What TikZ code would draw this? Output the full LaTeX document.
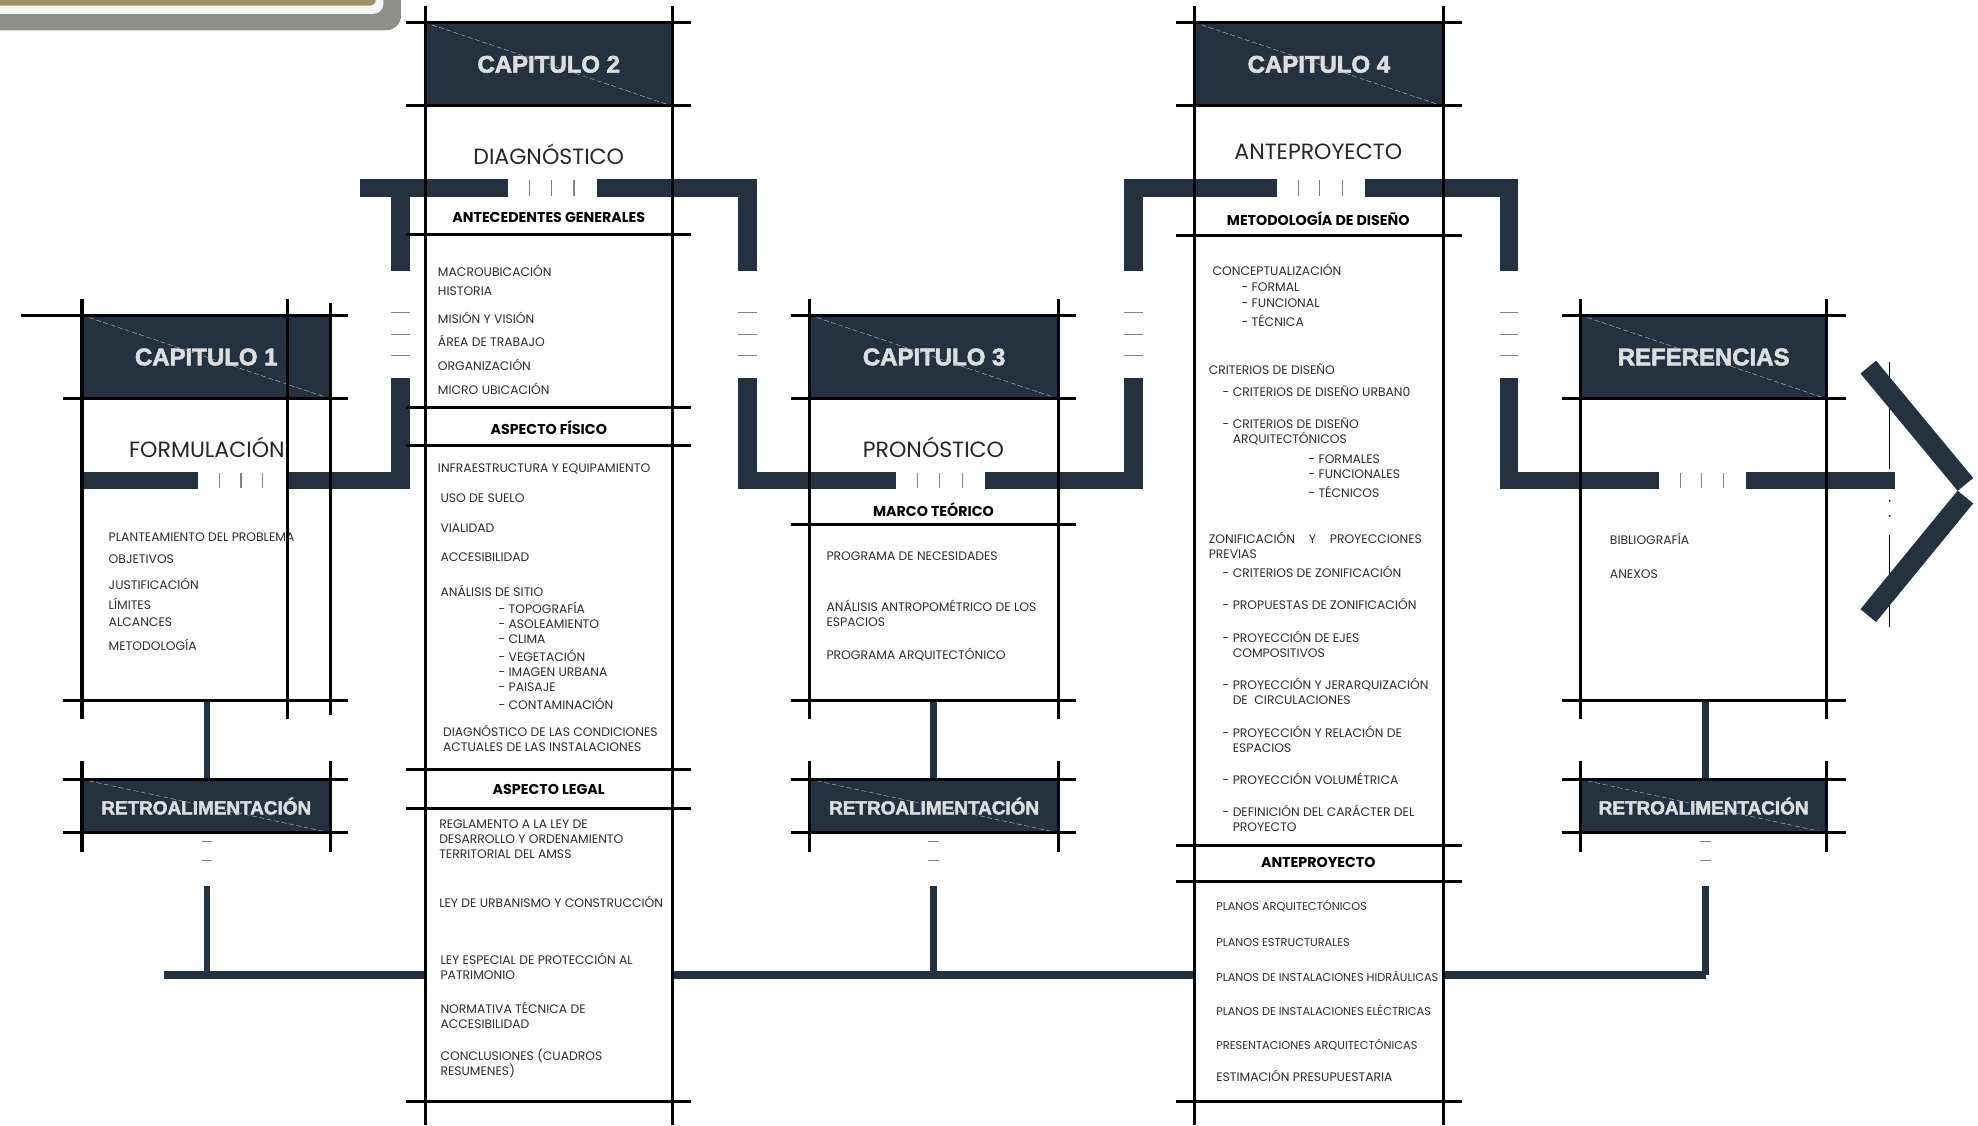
\documentclass[tikz,border=0pt]{standalone}
\usepackage{fontspec}
\setmainfont{Poppins}
\newfontfamily\hdrfont{Liberation Sans}[BoldFeatures={FakeBold=2.4}]
\definecolor{navy}{RGB}{35,49,64}
\definecolor{hdrtxt}{RGB}{222,222,222}
\definecolor{bodytxt}{RGB}{45,45,45}
\definecolor{tickc}{RGB}{120,135,150}
\definecolor{bgray}{RGB}{143,143,135}
\definecolor{bolive}{RGB}{155,145,99}
\begin{document}
\begin{tikzpicture}[x=1pt,y=-1pt,
  cline/.style={line width=2.4pt, black},
  hdrbox/.style={fill=navy, inner sep=0, text=hdrtxt, font=\hdrfont\bfseries\fontsize{19}{19}\selectfont},
  retbox/.style={fill=navy, inner sep=0, text=hdrtxt, font=\hdrfont\bfseries\fontsize{15}{15}\selectfont},
  ttl/.style={font=\fontsize{17.5}{17.5}\selectfont, text=black!85, inner sep=0},
  subhdr/.style={font=\bfseries\fontsize{11.3}{12}\selectfont, inner sep=0},
  item/.style={font=\fontsize{9.8}{12}\selectfont, text=bodytxt, inner sep=0, anchor=west, align=left},
  itemb/.style={item, font=\fontsize{9}{12}\selectfont},
  bar/.style={fill=navy},
  tick/.style={draw=tickc, line width=0.9pt},
  diag/.style={draw=white!65!navy, line width=0.35pt, dash pattern=on 4pt off 2pt},
  conn/.style={draw=navy, line width=5pt},
]
\useasboundingbox (0,0) rectangle (1568,892);
\fill[white] (0,0) rectangle (1568,892);
% banner
\fill[bgray, rounded corners=12pt] (-30,-30) rectangle (318,24);
\fill[white!96!black, rounded corners=8pt] (-30,-30) rectangle (304,11);
\fill[bolive, rounded corners=5pt] (-30,-30) rectangle (298,4.5);

% bottom feedback bar
\coordinate (jl) at (130,773);
\coordinate (jr) at (1352,773);
\draw[navy, line width=6pt] (jl) -- (jr);

% ---------- column white fills ----------
\fill[white] (337,0) rectangle (533,892);
\fill[white] (947,0) rectangle (1144,892);

% ---------- header boxes ----------
\node[hdrbox, minimum width=197pt, minimum height=66pt] (h1) at (163.5,283) {CAPITULO 1};
\node[hdrbox, minimum width=196pt, minimum height=66pt] (h2) at (435,51) {CAPITULO 2};
\node[hdrbox, minimum width=197pt, minimum height=66pt] (h3) at (740.5,283) {CAPITULO 3};
\node[hdrbox, minimum width=197pt, minimum height=66pt] (h4) at (1045.5,51) {CAPITULO 4};
\node[hdrbox, minimum width=195pt, minimum height=66pt] (h5) at (1350.5,283) {REFERENCIAS};
\node[retbox, minimum width=197pt, minimum height=42pt] (r1) at (163.5,639) {RETROALIMENTACIÓN};
\node[retbox, minimum width=197pt, minimum height=42pt] (r3) at (740.5,639) {RETROALIMENTACIÓN};
\node[retbox, minimum width=195pt, minimum height=42pt] (r5) at (1350.5,639) {RETROALIMENTACIÓN};
\foreach \n in {h1,h2,h3,h4,h5,r1,r3,r5} \draw[diag] (\n.north west) -- (\n.south east);

% ---------- connectors chapter -> feedback ----------
\coordinate (b1) at (164,555);
\coordinate (b3) at (740,555);
\coordinate (b5) at (1352,555);
\draw[conn] (b1) -- (r1.north -| b1);
\draw[conn] (b3) -- (r3.north -| b3);
\draw[conn] (b5) -- (r5.north -| b5);
\foreach \x in {164,740,1352} {
  \draw[tick, line width=1.2pt] (\x-4,667) -- (\x+4,667);
  \draw[tick, line width=1.2pt] (\x-4,682) -- (\x+4,682);
}
\coordinate (d1) at (164,702);
\coordinate (d3) at (740,702);
\coordinate (d5) at (1352,702);
\draw[conn] (d1) -- (jl -| d1);
\draw[conn] (d3) -- (jl -| d3);
\draw[navy, line width=6pt] (d5) -- (jr);

% ---------- brackets (thick bars) ----------
% chapter 1 band
\fill[bar] (65,374) rectangle (157,388);
\fill[bar] (228,374) rectangle (325,388);
\foreach \x in {174,191,208} \draw[tick] (\x,375) -- (\x,387);
% chapter 2 bracket
\fill[bar] (285,142) rectangle (403,156);
\fill[bar] (473,142) rectangle (600,156);
\foreach \x in {420,437,455} \draw[tick] (\x,143) -- (\x,155);
\fill[bar] (310,156) rectangle (325,215);
\fill[bar] (310,300) rectangle (325,388);
\fill[bar] (585,156) rectangle (600,215);
\fill[bar] (585,300) rectangle (600,388);
\foreach \y in {248,265,282} {
  \draw[tick] (310,\y) -- (325,\y);
  \draw[tick] (585,\y) -- (600,\y);
}
% chapter 3 band
\fill[bar] (585,374) rectangle (710,388);
\fill[bar] (781,374) rectangle (906,388);
\foreach \x in {727,745,763} \draw[tick] (\x,375) -- (\x,387);
% chapter 4 bracket
\fill[bar] (891,142) rectangle (1012,156);
\fill[bar] (1082,142) rectangle (1203,156);
\foreach \x in {1029,1046,1064} \draw[tick] (\x,143) -- (\x,155);
\fill[bar] (891,156) rectangle (906,215);
\fill[bar] (891,300) rectangle (906,388);
\fill[bar] (1189,156) rectangle (1203,215);
\fill[bar] (1189,300) rectangle (1203,388);
\foreach \y in {248,265,282} {
  \draw[tick] (891,\y) -- (906,\y);
  \draw[tick] (1189,\y) -- (1203,\y);
}
% references band
\fill[bar] (1189,374) rectangle (1315,388);
\fill[bar] (1384,374) rectangle (1502,388);
\foreach \x in {1332,1349,1366} \draw[tick] (\x,375) -- (\x,387);

% ---------- chevron ----------
\draw[black, line width=1pt] (1498,287) -- (1498,372);
\fill[black] (1498,397) circle (0.8pt);
\fill[black] (1498,409) circle (0.8pt);
\draw[black, line width=1pt] (1498,424) -- (1498,497);
\draw[navy, line width=16pt] (1481,291) -- (1558,384);
\draw[navy, line width=16pt] (1558,394) -- (1481,488);

% ---------- column lines ----------
% chapter 1
\draw[cline] (17,250) -- (276,250);
\foreach \y in {316,555,618,660} \draw[cline] (50,\y) -- (276,\y);
\draw[cline] (65,237) -- (65,570);
\draw[cline] (228,237) -- (228,570);
\draw[cline] (262,240) -- (262,567);
\draw[cline] (65,603) -- (65,675);
\draw[cline] (262,603) -- (262,675);
% chapter 2
\foreach \y in {18,84,186,323,353,610,641,873} \draw[cline] (322,\y) -- (548,\y);
\draw[cline] (337,5) -- (337,892);
\draw[cline] (533,5) -- (533,892);
% chapter 3
\foreach \y in {250,316,416,555,618,660} \draw[cline] (627,\y) -- (853,\y);
\draw[cline] (642,237) -- (642,570);
\draw[cline] (839,237) -- (839,570);
\draw[cline] (642,603) -- (642,675);
\draw[cline] (839,603) -- (839,675);
% chapter 4
\foreach \y in {18,84,187,670,699,873} \draw[cline] (932,\y) -- (1159,\y);
\draw[cline] (947,5) -- (947,892);
\draw[cline] (1144,5) -- (1144,892);
% references
\foreach \y in {250,316,555,618,660} \draw[cline] (1238,\y) -- (1463,\y);
\draw[cline] (1253,237) -- (1253,570);
\draw[cline] (1448,237) -- (1448,570);
\draw[cline] (1253,603) -- (1253,675);
\draw[cline] (1448,603) -- (1448,675);

% ---------- titles ----------
\node[ttl] (t1) at (164,355) {FORMULACIÓN};
\node[ttl] (t2) at (435,122) {DIAGNÓSTICO};
\node[ttl] (t3) at (740,355) {PRONÓSTICO};
\node[ttl] (t4) at (1045,120) {ANTEPROYECTO};

% ---------- chapter 1 items ----------
\node[item] (c1a) at (86,426) {PLANTEAMIENTO DEL PROBLEMA};
\node[item] (c1b) at (86,443) {OBJETIVOS};
\node[item] (c1c) at (86,463) {JUSTIFICACIÓN};
\node[item] (c1d) at (86,479) {LÍMITES};
\node[item] (c1e) at (86,493) {ALCANCES};
\node[item] (c1f) at (86,511) {METODOLOGÍA};

% ---------- chapter 2 items ----------
\node[subhdr] (s2a) at (435,172) {ANTECEDENTES GENERALES};
\node[item] (c2a) at (347,215) {MACROUBICACIÓN};
\node[item] (c2b) at (347,231) {HISTORIA};
\node[item] (c2c) at (347,252) {MISIÓN Y VISIÓN};
\node[item] (c2d) at (347,270) {ÁREA DE TRABAJO};
\node[item] (c2e) at (347,289) {ORGANIZACIÓN};
\node[item] (c2f) at (347,308) {MICRO UBICACIÓN};
\node[subhdr] (s2b) at (435,339) {ASPECTO FÍSICO};
\node[item] (c2g) at (347,372) {INFRAESTRUCTURA Y EQUIPAMIENTO};
\node[item] (c2h) at (349,395) {USO DE SUELO};
\node[item] (c2i) at (349,419) {VIALIDAD};
\node[item] (c2j) at (349,442) {ACCESIBILIDAD};
\node[item] (c2k) at (349,468) {ANÁLISIS DE SITIO};
\node[item] (c2l) at (395,482) {- TOPOGRAFÍA};
\node[item] (c2m) at (395,495) {- ASOLEAMIENTO};
\node[item] (c2n) at (395,507) {- CLIMA};
\node[item] (c2o) at (395,520) {- VEGETACIÓN};
\node[item] (c2p) at (395,533) {- IMAGEN URBANA};
\node[item] (c2q) at (395,545) {- PAISAJE};
\node[item] (c2r) at (395,558) {- CONTAMINACIÓN};
\node[item] (c2s) at (351,585) {DIAGNÓSTICO DE LAS CONDICIONES\\ACTUALES DE LAS INSTALACIONES};
\node[subhdr] (s2c) at (435,626) {ASPECTO LEGAL};
\node[item] (c2t) at (348,665) {REGLAMENTO A LA LEY DE\\DESARROLLO Y ORDENAMIENTO\\TERRITORIAL DEL AMSS};
\node[item] (c2u) at (348,715) {LEY DE URBANISMO Y CONSTRUCCIÓN};
\node[item] (c2v) at (349,766) {LEY ESPECIAL DE PROTECCIÓN AL\\PATRIMONIO};
\node[item] (c2w) at (349,805) {NORMATIVA TÉCNICA DE\\ACCESIBILIDAD};
\node[item] (c2x) at (349,843) {CONCLUSIONES (CUADROS\\RESUMENES)};

% ---------- chapter 3 items ----------
\node[subhdr] (s3a) at (740,404) {MARCO TEÓRICO};
\node[item] (c3a) at (655,441) {PROGRAMA DE NECESIDADES};
\node[item] (c3b) at (655,486) {ANÁLISIS ANTROPOMÉTRICO DE LOS\\ESPACIOS};
\node[item] (c3c) at (655,519) {PROGRAMA ARQUITECTÓNICO};

% ---------- chapter 4 items ----------
\node[subhdr] (s4a) at (1045,173) {METODOLOGÍA DE DISEÑO};
\node[item] (c4a) at (961,214) {CONCEPTUALIZACIÓN};
\node[item] (c4b) at (984,228) {- FORMAL};
\node[item] (c4c) at (984,240) {- FUNCIONAL};
\node[item] (c4d) at (984,254) {- TÉCNICA};
\node[item] (c4e) at (958,293) {CRITERIOS DE DISEÑO};
\node[item] (c4f) at (969,310) {- CRITERIOS DE DISEÑO URBAN0};
\node[item] (c4g) at (969,342) {- CRITERIOS DE DISEÑO\\\hphantom{- }ARQUITECTÓNICOS};
\node[item] (c4h) at (1037,364) {- FORMALES};
\node[item] (c4i) at (1037,376) {- FUNCIONALES};
\node[item] (c4j) at (1037,390) {- TÉCNICOS};
\node[item] (c4k) at (958,432) {\makebox[169pt][s]{ZONIFICACIÓN Y PROYECCIONES}\\PREVIAS};
\node[item] (c4l) at (969,453) {- CRITERIOS DE ZONIFICACIÓN};
\node[item] (c4m) at (969,479) {- PROPUESTAS DE ZONIFICACIÓN};
\node[item] (c4n) at (969,511) {- PROYECCIÓN DE EJES\\\hphantom{- }COMPOSITIVOS};
\node[item] (c4o) at (969,548) {- PROYECCIÓN Y JERARQUIZACIÓN\\\hphantom{- }DE\ \ CIRCULACIONES};
\node[item] (c4p) at (969,586) {- PROYECCIÓN Y RELACIÓN DE\\\hphantom{- }ESPACIOS};
\node[item] (c4q) at (969,617) {- PROYECCIÓN VOLUMÉTRICA};
\node[item] (c4r) at (969,649) {- DEFINICIÓN DEL CARÁCTER DEL\\\hphantom{- }PROYECTO};
\node[subhdr] (s4b) at (1045,684) {ANTEPROYECTO};
\node[itemb] (c4s) at (964,718) {PLANOS ARQUITECTÓNICOS};
\node[itemb] (c4t) at (964,747) {PLANOS ESTRUCTURALES};
\node[itemb] (c4u) at (964,774) {PLANOS DE INSTALACIONES HIDRÁULICAS};
\node[itemb] (c4v) at (964,801) {PLANOS DE INSTALACIONES ELÉCTRICAS};
\node[itemb] (c4w) at (964,828) {PRESENTACIONES ARQUITECTÓNICAS};
\node[item] (c4x) at (964,853) {ESTIMACIÓN PRESUPUESTARIA};

% ---------- references items ----------
\node[item] (c5a) at (1276,427) {BIBLIOGRAFÍA};
\node[item] (c5b) at (1276,455) {ANEXOS};
\end{tikzpicture}
\end{document}
